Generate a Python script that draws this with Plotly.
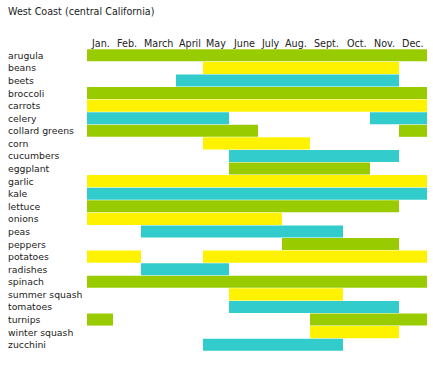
import plotly.graph_objects as go

# ---- data ----
months = ["Jan.", "Feb.", "March", "April", "May", "June", "July", "Aug.", "Sept.", "Oct.", "Nov.", "Dec."]
vegetables = ["arugula", "beans", "beets", "broccoli", "carrots", "celery", "collard greens", "corn",
              "cucumbers", "eggplant", "garlic", "kale", "lettuce", "onions", "peas", "peppers",
              "potatoes", "radishes", "spinach", "summer squash", "tomatoes", "turnips",
              "winter squash", "zucchini"]
# seasons as (first month, last month), 1-based inclusive
seasons = [
    [(1, 12)],            # arugula
    [(5, 11)],            # beans
    [(4, 11)],            # beets
    [(1, 12)],            # broccoli
    [(1, 12)],            # carrots
    [(1, 5), (11, 12)],   # celery
    [(1, 6), (12, 12)],   # collard greens
    [(5, 8)],             # corn
    [(6, 11)],            # cucumbers
    [(6, 10)],            # eggplant
    [(1, 12)],            # garlic
    [(1, 12)],            # kale
    [(1, 11)],            # lettuce
    [(1, 7)],             # onions
    [(3, 9)],             # peas
    [(8, 11)],            # peppers
    [(1, 2), (5, 12)],    # potatoes
    [(3, 5)],             # radishes
    [(1, 12)],            # spinach
    [(6, 9)],             # summer squash
    [(6, 11)],            # tomatoes
    [(1, 1), (9, 12)],    # turnips
    [(9, 11)],            # winter squash
    [(5, 9)],             # zucchini
]
title_text = "West Coast (central California)"

# ---- style / layout ----
colors = ["#99cc00", "#fff200", "#33cccc"]
col_widths = [26, 28, 35, 27, 26, 29, 24, 28, 33, 27, 29, 28]  # table column widths
edges = [0]
for w in col_widths:
    edges.append(edges[-1] + w)
centers = [(edges[i] + edges[i + 1]) / 2 for i in range(12)]

W, H = 433, 366
ML, MR, MT, MB = 87, 6, 49, 15
PW, PH = W - ML - MR, H - MT - MB
FONT = "DejaVu Sans"
TXT = "#222222"

fig = go.Figure()
for ci in range(3):
    ys, xs, bases = [], [], []
    for i, veg in enumerate(vegetables):
        if i % 3 != ci:
            continue
        for a, b in seasons[i]:
            ys.append(i)
            bases.append(edges[a - 1])
            xs.append(edges[b] - edges[a - 1])
    fig.add_trace(go.Bar(
        y=ys, x=xs, base=bases, orientation="h", width=0.96,
        marker=dict(color=colors[ci], line=dict(width=0)),
        hoverinfo="skip", showlegend=False,
    ))

annotations = [dict(
    text=title_text, xref="paper", yref="paper",
    x=(6 - ML) / PW, y=1 + (MT - 11) / PH, xanchor="left", yanchor="middle",
    showarrow=False, font=dict(family=FONT, size=9.6, color=TXT),
)]
for i, veg in enumerate(vegetables):
    annotations.append(dict(
        text=veg, xref="paper", yref="y",
        x=(6 - ML) / PW, y=i, xanchor="left", yanchor="middle",
        showarrow=False, font=dict(family=FONT, size=9.3, color=TXT),
    ))
for m, c in zip(months, centers):
    annotations.append(dict(
        text=m, xref="x", yref="paper",
        x=c, y=1 + 5.5 / PH, xanchor="center", yanchor="middle",
        showarrow=False, font=dict(family=FONT, size=9.6, color=TXT),
    ))

fig.update_layout(
    width=W, height=H,
    margin=dict(l=ML, r=MR, t=MT, b=MB, pad=0),
    paper_bgcolor="white", plot_bgcolor="white",
    barmode="overlay",
    xaxis=dict(range=[0, edges[-1]], showticklabels=False,
               showgrid=False, zeroline=False, showline=False, ticks="", fixedrange=True),
    yaxis=dict(range=[len(vegetables) - 0.5, -0.5], showticklabels=False, showgrid=False,
               zeroline=False, showline=False, ticks="", fixedrange=True),
    annotations=annotations,
)

fig.write_html("out.html", config={"displayModeBar": False},
               post_script="document.body.style.margin='0';document.body.style.overflow='hidden';")
